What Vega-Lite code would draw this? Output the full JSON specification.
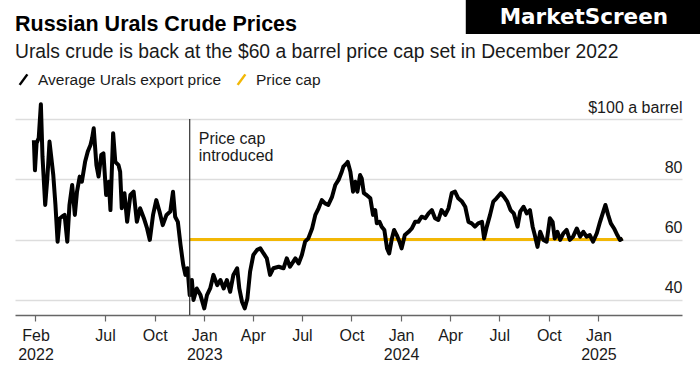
{
  "$schema": "https://vega.github.io/schema/vega-lite/v6.json",
  "width": 667,
  "height": 196,
  "autosize": {"type": "none"},
  "padding": {"left": 15, "top": 119, "right": 18, "bottom": 57},
  "background": "white",
  "title": {
    "text": "Russian Urals Crude Prices",
    "subtitle": "Urals crude is back at the $60 a barrel price cap set in December 2022",
    "anchor": "start",
    "frame": "group",
    "font": "Liberation Sans",
    "fontSize": 21.5,
    "fontWeight": "bold",
    "color": "#000000",
    "subtitleFont": "Liberation Sans",
    "subtitleFontSize": 19.3,
    "subtitleColor": "#1a1a1a",
    "subtitlePadding": 8,
    "offset": -63
  },
  "datasets": {
    "price": [
      {"date": "2022-02-19", "v": 93},
      {"date": "2022-02-21", "v": 83},
      {"date": "2022-02-24", "v": 92},
      {"date": "2022-02-28", "v": 93.7},
      {"date": "2022-03-04", "v": 104.9},
      {"date": "2022-03-07", "v": 87.5},
      {"date": "2022-03-12", "v": 71.5},
      {"date": "2022-03-16", "v": 80.4},
      {"date": "2022-03-20", "v": 92.5},
      {"date": "2022-03-27", "v": 81.4},
      {"date": "2022-03-31", "v": 71.5},
      {"date": "2022-04-04", "v": 59.3},
      {"date": "2022-04-08", "v": 67},
      {"date": "2022-04-12", "v": 67.6},
      {"date": "2022-04-17", "v": 68.2},
      {"date": "2022-04-22", "v": 59.3},
      {"date": "2022-04-26", "v": 71.5},
      {"date": "2022-05-01", "v": 78.1},
      {"date": "2022-05-06", "v": 68.2},
      {"date": "2022-05-10", "v": 75.9},
      {"date": "2022-05-15", "v": 80.9},
      {"date": "2022-05-19", "v": 79.2},
      {"date": "2022-05-25", "v": 85.8},
      {"date": "2022-05-30", "v": 89.2},
      {"date": "2022-06-04", "v": 91.4},
      {"date": "2022-06-07", "v": 93.6},
      {"date": "2022-06-10", "v": 96.9},
      {"date": "2022-06-15", "v": 84.7},
      {"date": "2022-06-19", "v": 80.9},
      {"date": "2022-06-24", "v": 88.1},
      {"date": "2022-06-28", "v": 88.6},
      {"date": "2022-07-03", "v": 74.8},
      {"date": "2022-07-08", "v": 79.2},
      {"date": "2022-07-11", "v": 69.8},
      {"date": "2022-07-16", "v": 95.3},
      {"date": "2022-07-20", "v": 85.8},
      {"date": "2022-07-26", "v": 84.7},
      {"date": "2022-07-29", "v": 82.5},
      {"date": "2022-08-01", "v": 70.4},
      {"date": "2022-08-06", "v": 75.4},
      {"date": "2022-08-11", "v": 65.9},
      {"date": "2022-08-17", "v": 74.8},
      {"date": "2022-08-23", "v": 75.9},
      {"date": "2022-08-29", "v": 65.9},
      {"date": "2022-09-04", "v": 70.4},
      {"date": "2022-09-11", "v": 67.1},
      {"date": "2022-09-17", "v": 63.7},
      {"date": "2022-09-22", "v": 59.9},
      {"date": "2022-09-28", "v": 68.2},
      {"date": "2022-10-04", "v": 73.1},
      {"date": "2022-10-10", "v": 69.3},
      {"date": "2022-10-16", "v": 64.8},
      {"date": "2022-10-23", "v": 68.2},
      {"date": "2022-10-30", "v": 69.3},
      {"date": "2022-11-04", "v": 75.9},
      {"date": "2022-11-08", "v": 67.6},
      {"date": "2022-11-13", "v": 65.9},
      {"date": "2022-11-18", "v": 58.2},
      {"date": "2022-11-23", "v": 51.6},
      {"date": "2022-11-27", "v": 48.3},
      {"date": "2022-12-01", "v": 50.5},
      {"date": "2022-12-05", "v": 41.6},
      {"date": "2022-12-09", "v": 46.6},
      {"date": "2022-12-12", "v": 40},
      {"date": "2022-12-18", "v": 43.8},
      {"date": "2022-12-25", "v": 41.6},
      {"date": "2023-01-01", "v": 37.2},
      {"date": "2023-01-06", "v": 41.6},
      {"date": "2023-01-12", "v": 43.8},
      {"date": "2023-01-18", "v": 48.3},
      {"date": "2023-01-25", "v": 44.9},
      {"date": "2023-01-31", "v": 46.6},
      {"date": "2023-02-06", "v": 43.8},
      {"date": "2023-02-12", "v": 46.6},
      {"date": "2023-02-18", "v": 42.7},
      {"date": "2023-02-24", "v": 48.3},
      {"date": "2023-03-03", "v": 50.5},
      {"date": "2023-03-07", "v": 43.8},
      {"date": "2023-03-12", "v": 39.4},
      {"date": "2023-03-17", "v": 37.2},
      {"date": "2023-03-22", "v": 40.5},
      {"date": "2023-03-27", "v": 49.4},
      {"date": "2023-04-02", "v": 54.9},
      {"date": "2023-04-09", "v": 56.6},
      {"date": "2023-04-15", "v": 57.1},
      {"date": "2023-04-21", "v": 55.4},
      {"date": "2023-04-27", "v": 53.8},
      {"date": "2023-05-03", "v": 48.3},
      {"date": "2023-05-09", "v": 50.5},
      {"date": "2023-05-19", "v": 51},
      {"date": "2023-05-28", "v": 50.5},
      {"date": "2023-06-03", "v": 53.8},
      {"date": "2023-06-09", "v": 51},
      {"date": "2023-06-19", "v": 53.8},
      {"date": "2023-06-25", "v": 52.1},
      {"date": "2023-07-01", "v": 54.9},
      {"date": "2023-07-07", "v": 59.3},
      {"date": "2023-07-13", "v": 60.4},
      {"date": "2023-07-20", "v": 63.7},
      {"date": "2023-07-26", "v": 68.2},
      {"date": "2023-08-01", "v": 70.4},
      {"date": "2023-08-07", "v": 73.1},
      {"date": "2023-08-13", "v": 72},
      {"date": "2023-08-19", "v": 71.5},
      {"date": "2023-08-26", "v": 74.2},
      {"date": "2023-09-01", "v": 78.1},
      {"date": "2023-09-07", "v": 79.8},
      {"date": "2023-09-13", "v": 82.5},
      {"date": "2023-09-16", "v": 84.2},
      {"date": "2023-09-22", "v": 85.3},
      {"date": "2023-09-24", "v": 85.8},
      {"date": "2023-09-29", "v": 82.5},
      {"date": "2023-10-04", "v": 75.9},
      {"date": "2023-10-08", "v": 79.2},
      {"date": "2023-10-12", "v": 75.9},
      {"date": "2023-10-17", "v": 81.4},
      {"date": "2023-10-20", "v": 80.3},
      {"date": "2023-10-24", "v": 75.4},
      {"date": "2023-10-29", "v": 74.8},
      {"date": "2023-11-05", "v": 73.7},
      {"date": "2023-11-10", "v": 68.2},
      {"date": "2023-11-14", "v": 69.8},
      {"date": "2023-11-17", "v": 65.4},
      {"date": "2023-11-22", "v": 65.9},
      {"date": "2023-11-26", "v": 64.3},
      {"date": "2023-12-01", "v": 63.2},
      {"date": "2023-12-06", "v": 57.1},
      {"date": "2023-12-10", "v": 55.4},
      {"date": "2023-12-15", "v": 60.4},
      {"date": "2023-12-19", "v": 63.2},
      {"date": "2023-12-24", "v": 61.5},
      {"date": "2023-12-29", "v": 59.3},
      {"date": "2024-01-02", "v": 57.1},
      {"date": "2024-01-08", "v": 61.5},
      {"date": "2024-01-15", "v": 62.6},
      {"date": "2024-01-21", "v": 63.7},
      {"date": "2024-01-27", "v": 65.9},
      {"date": "2024-02-02", "v": 65.9},
      {"date": "2024-02-08", "v": 67.6},
      {"date": "2024-02-15", "v": 67.1},
      {"date": "2024-02-21", "v": 68.7},
      {"date": "2024-02-27", "v": 69.8},
      {"date": "2024-03-04", "v": 67.1},
      {"date": "2024-03-10", "v": 66.5},
      {"date": "2024-03-16", "v": 69.8},
      {"date": "2024-03-23", "v": 68.2},
      {"date": "2024-03-29", "v": 70.4},
      {"date": "2024-04-04", "v": 75.4},
      {"date": "2024-04-10", "v": 75.9},
      {"date": "2024-04-16", "v": 73.7},
      {"date": "2024-04-23", "v": 72.6},
      {"date": "2024-04-29", "v": 70.9},
      {"date": "2024-05-05", "v": 65.9},
      {"date": "2024-05-11", "v": 65.4},
      {"date": "2024-05-17", "v": 64.3},
      {"date": "2024-05-23", "v": 65.4},
      {"date": "2024-05-30", "v": 65.9},
      {"date": "2024-06-03", "v": 60.4},
      {"date": "2024-06-08", "v": 64.3},
      {"date": "2024-06-14", "v": 68.2},
      {"date": "2024-06-20", "v": 72.6},
      {"date": "2024-06-26", "v": 73.7},
      {"date": "2024-07-04", "v": 75.4},
      {"date": "2024-07-10", "v": 74.2},
      {"date": "2024-07-16", "v": 72.6},
      {"date": "2024-07-22", "v": 69.8},
      {"date": "2024-07-28", "v": 68.7},
      {"date": "2024-08-04", "v": 64.3},
      {"date": "2024-08-09", "v": 69.3},
      {"date": "2024-08-15", "v": 70.9},
      {"date": "2024-08-21", "v": 68.7},
      {"date": "2024-08-27", "v": 69.8},
      {"date": "2024-09-01", "v": 64.3},
      {"date": "2024-09-05", "v": 61.5},
      {"date": "2024-09-10", "v": 57.6},
      {"date": "2024-09-15", "v": 62.6},
      {"date": "2024-09-21", "v": 59.9},
      {"date": "2024-09-27", "v": 59.3},
      {"date": "2024-10-03", "v": 67.1},
      {"date": "2024-10-08", "v": 65.9},
      {"date": "2024-10-12", "v": 60.4},
      {"date": "2024-10-17", "v": 62.6},
      {"date": "2024-10-22", "v": 59.9},
      {"date": "2024-10-28", "v": 62.1},
      {"date": "2024-11-03", "v": 63.2},
      {"date": "2024-11-09", "v": 59.9},
      {"date": "2024-11-15", "v": 61},
      {"date": "2024-11-22", "v": 63.7},
      {"date": "2024-11-28", "v": 61},
      {"date": "2024-12-04", "v": 62.6},
      {"date": "2024-12-10", "v": 61},
      {"date": "2024-12-16", "v": 61.5},
      {"date": "2024-12-22", "v": 59.3},
      {"date": "2024-12-29", "v": 62.1},
      {"date": "2025-01-04", "v": 65.9},
      {"date": "2025-01-10", "v": 69.3},
      {"date": "2025-01-14", "v": 71.5},
      {"date": "2025-01-19", "v": 68.2},
      {"date": "2025-01-24", "v": 65.4},
      {"date": "2025-01-30", "v": 63.7},
      {"date": "2025-02-05", "v": 61.5},
      {"date": "2025-02-10", "v": 59.9},
      {"date": "2025-02-15", "v": 60.4}
    ],
    "cap": [
      {"date": "2022-12-05", "v": 60},
      {"date": "2025-02-15", "v": 60}
    ],
    "notes": [
      {"label": "Price cap introduced", "date": "2022-12-05"}
    ]
  },
  "layer": [
    {
      "data": {"name": "cap"},
      "mark": {"type": "line", "strokeWidth": 3},
      "encoding": {
        "x": {
          "field": "date",
          "type": "temporal",
          "title": null,
          "scale": {"domain": [{"year": 2022, "month": 1, "date": 15}, {"year": 2025, "month": 6, "date": 5}]},
          "axis": {
            "values": [
              {"year": 2022, "month": 2, "date": 22},
              {"year": 2022, "month": 7, "date": 1},
              {"year": 2022, "month": 10, "date": 1},
              {"year": 2023, "month": 1, "date": 1},
              {"year": 2023, "month": 4, "date": 1},
              {"year": 2023, "month": 7, "date": 1},
              {"year": 2023, "month": 10, "date": 1},
              {"year": 2024, "month": 1, "date": 1},
              {"year": 2024, "month": 4, "date": 1},
              {"year": 2024, "month": 7, "date": 1},
              {"year": 2024, "month": 10, "date": 1},
              {"year": 2025, "month": 1, "date": 1}
            ],
            "labelExpr": "(month(datum.value) == 0 || (year(datum.value) == 2022 && month(datum.value) == 1)) ? [timeFormat(datum.value, '%b'), timeFormat(datum.value, '%Y')] : timeFormat(datum.value, '%b')",
            "grid": false,
            "domainColor": "#666666",
            "domainWidth": 1.5,
            "tickColor": "#666666",
            "tickWidth": 1.2,
            "tickSize": 6,
            "labelFont": "Liberation Sans",
            "labelFontSize": 16,
            "labelColor": "#1a1a1a",
            "labelPadding": 6,
            "labelBaseline": "top",
            "labelLineHeight": 19,
            "labelFlush": false,
            "labelOverlap": false
          }
        },
        "y": {
          "field": "v",
          "type": "quantitative",
          "title": null,
          "scale": {"domain": [35, 100], "nice": false, "zero": false},
          "axis": {
            "orient": "right",
            "values": [40, 60, 80, 100],
            "labelExpr": "datum.value == 100 ? '$100 a barrel' : datum.label",
            "grid": true,
            "gridColor": "#dddddd",
            "gridWidth": 1.5,
            "domain": false,
            "ticks": false,
            "tickSize": 0,
            "labelPadding": 0,
            "labelAlign": "right",
            "labelBaseline": "alphabetic",
            "labelOffset": -7,
            "labelFont": "Liberation Sans",
            "labelFontSize": 16,
            "labelColor": "#1a1a1a",
            "labelFlush": false,
            "labelOverlap": false
          }
        },
        "color": {"datum": "Price cap", "type": "nominal"}
      }
    },
    {
      "data": {"name": "price"},
      "mark": {"type": "line", "strokeWidth": 4, "strokeJoin": "round"},
      "encoding": {
        "x": {"field": "date", "type": "temporal"},
        "y": {"field": "v", "type": "quantitative"},
        "color": {
          "datum": "Average Urals export price",
          "type": "nominal",
          "scale": {"domain": ["Average Urals export price", "Price cap"], "range": ["#000000", "#f2b705"]},
          "legend": {
            "title": null,
            "orient": "top",
            "direction": "horizontal",
            "symbolType": "M-0.55,0.75L0.55,-0.75",
            "symbolSize": 196,
            "symbolStrokeWidth": 2.5,
            "labelFont": "Liberation Sans",
            "labelFontSize": 15.5,
            "labelColor": "#1a1a1a",
            "labelLimit": 0,
            "labelOffset": 6,
            "columnPadding": 10,
            "offset": 29
          }
        }
      }
    },
    {
      "data": {"name": "notes"},
      "mark": {"type": "rule", "color": "#333333", "strokeWidth": 1.2},
      "encoding": {
        "x": {"field": "date", "type": "temporal"}
      }
    },
    {
      "data": {"name": "notes"},
      "mark": {"type": "text", "font": "Liberation Sans", "fontSize": 16, "color": "#1a1a1a", "align": "left", "baseline": "top", "dx": 9, "lineHeight": 17},
      "encoding": {
        "x": {"field": "date", "type": "temporal"},
        "y": {"datum": 96, "type": "quantitative"},
        "text": {"value": ["Price cap", "introduced"]}
      }
    },
    {
      "data": {"name": "notes"},
      "mark": {"type": "rect", "color": "#000000", "clip": false},
      "encoding": {
        "x": {"datum": {"year": 2024, "month": 4, "date": 30}, "type": "temporal"},
        "x2": {"datum": {"year": 2025, "month": 7, "date": 10}},
        "y": {"datum": 139.6, "type": "quantitative"},
        "y2": {"datum": 128.2}
      }
    },
    {
      "data": {"name": "notes"},
      "mark": {"type": "text", "color": "#ffffff", "font": "DejaVu Sans", "fontWeight": "bold", "fontSize": 21.5, "align": "center", "baseline": "middle"},
      "encoding": {
        "x": {"datum": {"year": 2024, "month": 12, "date": 5}, "type": "temporal"},
        "y": {"datum": 133.6, "type": "quantitative"},
        "text": {"value": "MarketScreen"}
      }
    }
  ],
  "config": {
    "view": {"stroke": null}
  }
}
